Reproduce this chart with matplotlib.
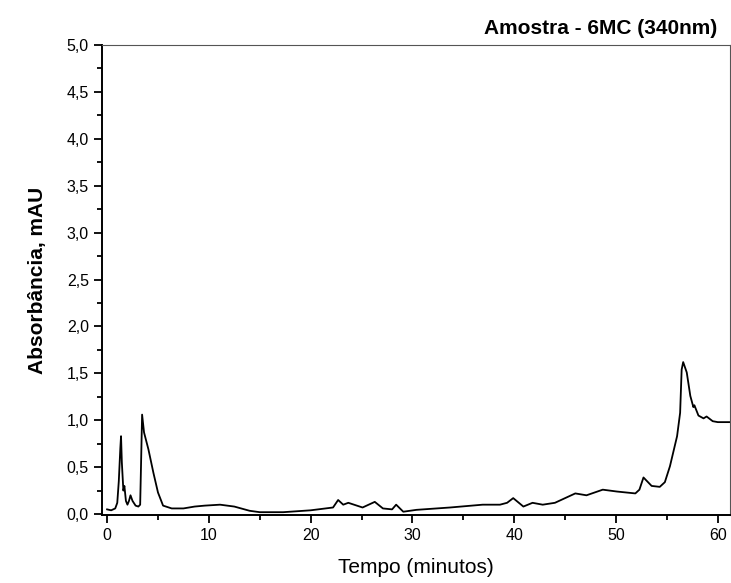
import matplotlib.pyplot as plt
from matplotlib.ticker import MultipleLocator, FuncFormatter

plt.rcParams['font.family'] = ['Liberation Sans', 'DejaVu Sans']

# chromatogram trace (minutes, mAU)
tempo = [0.0, 0.4, 0.8, 1.0, 1.15, 1.3, 1.37, 1.45, 1.6, 1.7, 1.85, 2.0, 2.15, 2.3, 2.5,
         2.8, 3.07, 3.25, 3.35, 3.44, 3.63, 4.06, 4.55, 5.0, 5.5, 6.35, 7.5, 8.6, 9.6,
         11.1, 12.5, 14.0, 15.0, 17.3, 20.0, 22.2, 22.7, 23.2, 23.7, 25.1, 26.3, 27.1,
         28.0, 28.4, 29.1, 30.4, 33.7, 36.9, 38.6, 39.3, 39.9, 40.9, 41.8, 42.8, 44.0,
         45.2, 46.0, 47.1, 48.7, 50.1, 51.9, 52.3, 52.7, 53.5, 54.3, 54.8, 55.3, 56.0,
         56.3, 56.45, 56.6, 56.95, 57.3, 57.6, 57.7, 58.1, 58.6, 58.9, 59.5, 60.0, 61.2]
absorb = [0.05, 0.04, 0.06, 0.12, 0.35, 0.70, 0.83, 0.55, 0.25, 0.30, 0.14, 0.10, 0.14,
          0.20, 0.14, 0.09, 0.08, 0.10, 0.60, 1.06, 0.87, 0.69, 0.44, 0.23, 0.09, 0.06,
          0.06, 0.08, 0.09, 0.10, 0.08, 0.035, 0.02, 0.02, 0.04, 0.07, 0.15, 0.10, 0.12,
          0.07, 0.13, 0.06, 0.05, 0.10, 0.025, 0.045, 0.07, 0.10, 0.10, 0.12, 0.17, 0.08,
          0.12, 0.10, 0.12, 0.18, 0.22, 0.20, 0.26, 0.24, 0.22, 0.26, 0.39, 0.30, 0.29,
          0.34, 0.51, 0.83, 1.08, 1.54, 1.62, 1.51, 1.26, 1.14, 1.16, 1.05, 1.02, 1.04,
          0.99, 0.98, 0.98]

fig = plt.figure(figsize=(7.31, 5.83), dpi=100)
ax = fig.add_axes([102/731, 68/583, 628/731, 470/583])

ax.plot(tempo, absorb, color='black', lw=1.3)

ax.set_xlim(-0.5, 61.2)
ax.set_ylim(-0.01, 5.0)
ax.xaxis.set_major_locator(MultipleLocator(10))
ax.xaxis.set_minor_locator(MultipleLocator(5))
ax.yaxis.set_major_locator(MultipleLocator(0.5))
ax.yaxis.set_minor_locator(MultipleLocator(0.25))
ax.yaxis.set_major_formatter(FuncFormatter(lambda v, p: f'{v:.1f}'.replace('.', ',')))

ax.tick_params(which='major', direction='out', length=6, width=1.3, labelsize=11.5)
ax.tick_params(which='minor', direction='out', length=3.5, width=1.3)
for s in ['left', 'bottom']:
    ax.spines[s].set_linewidth(1.4)
for s in ['top', 'right']:
    ax.spines[s].set_linewidth(0.8)
    ax.spines[s].set_color('#555555')

ax.set_xlabel('Tempo (minutos)', fontsize=15, labelpad=11)
ax.set_ylabel('Absorbância, mAU', fontsize=15, fontweight='bold', labelpad=14)
fig.text(717/731, 1 - 28/583, 'Amostra - 6MC (340nm)', ha='right', va='center',
         fontsize=15, fontweight='bold')

fig.savefig('out.png', dpi=100)
